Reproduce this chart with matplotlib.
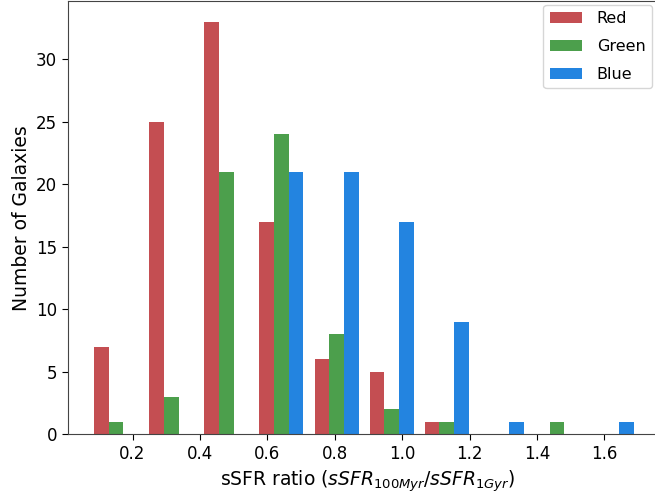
import matplotlib
matplotlib.use("Agg")
import matplotlib.pyplot as plt
import numpy as np

# Histogram bin edges (10 bins)
bin_start = 0.0696
bin_width = 0.1635
n_bins = 10

labels = ["Red", "Green", "Blue"]
red_counts = [7, 25, 33, 17, 6, 5, 1, 0, 0, 0]
green_counts = [1, 3, 21, 24, 8, 2, 1, 0, 1, 0]
blue_counts = [0, 0, 0, 21, 21, 17, 9, 1, 0, 1]
colors = ["#c44e52", "#4c9f4c", "#2384e0"]

edges = bin_start + bin_width * np.arange(n_bins + 1)
centers = 0.5 * (edges[:-1] + edges[1:])

fig = plt.figure(figsize=(6.55, 4.95), dpi=100)
ax = fig.add_axes([0.1034, 0.1226, 0.915, 0.875])

ax.hist([centers, centers, centers], bins=edges,
        weights=[red_counts, green_counts, blue_counts],
        color=colors, label=labels, histtype="bar")

ax.set_xlim(0.0077, 1.786)
ax.set_ylim(0, 34.65)
ax.set_xticks([0.2, 0.4, 0.6, 0.8, 1.0, 1.2, 1.4, 1.6])
ax.set_yticks([0, 5, 10, 15, 20, 25, 30])
ax.tick_params(labelsize=12, length=4)
for s in ax.spines.values():
    s.set_color("#444444")
ax.set_xlabel(r"sSFR ratio ($sSFR_{100Myr}/sSFR_{1Gyr}$)", fontsize=13.5)
ax.set_ylabel("Number of Galaxies", fontsize=13.5)
ax.legend(loc="upper right", bbox_to_anchor=(652 / 655, 1 - 5 / 495),
          bbox_transform=fig.transFigure, fontsize=11.5, borderaxespad=0,
          labelspacing=0.8, handlelength=2.0, handletextpad=0.95)

fig.savefig("out.png", dpi=100)
